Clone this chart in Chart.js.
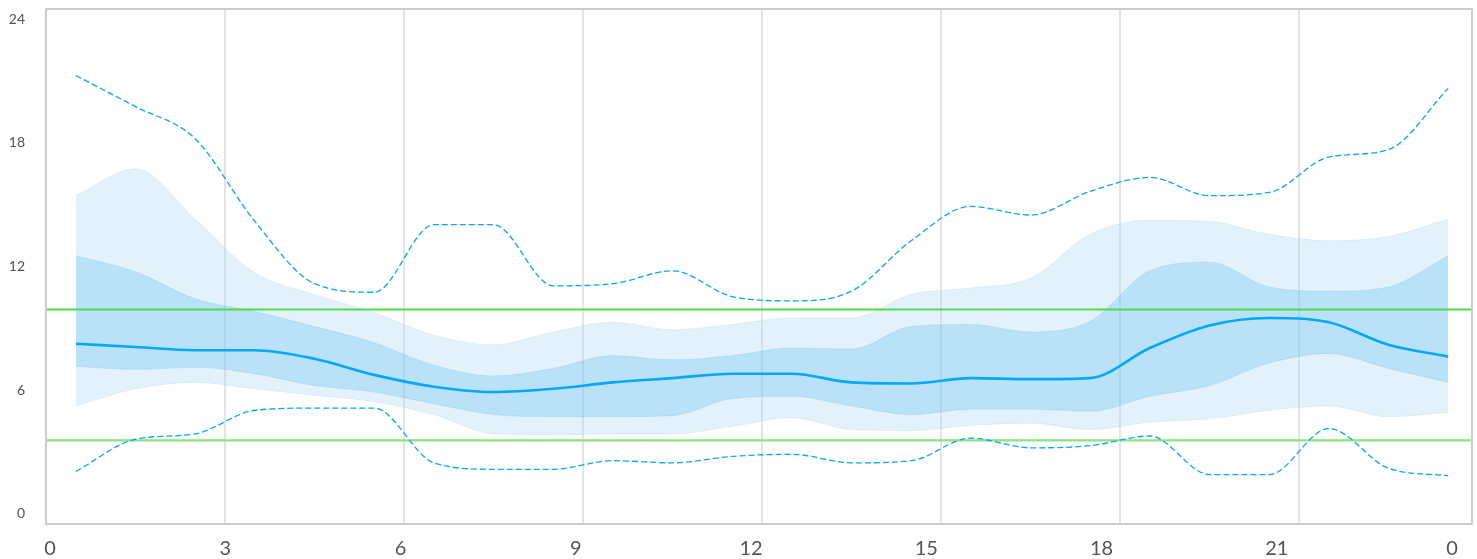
<!DOCTYPE html>
<html>
<head>
<meta charset="utf-8">
<script src="https://cdn.jsdelivr.net/npm/chart.js@4.4.1/dist/chart.umd.min.js"></script>
<style>
  html, body { margin: 0; padding: 0; background: #fff; }
  #grafica { display: block; }
</style>
</head>
<body>
<canvas id="grafica" width="1477" height="559"></canvas>
<script>
// hours of day (centre of each hourly slot)
const hours = [0.5, 1.5, 2.5, 3.5, 4.5, 5.5, 6.5, 7.5, 8.5, 9.5, 10.5, 11.5,
  12.5, 13.5, 14.5, 15.5, 16.5, 17.5, 18.5, 19.5, 20.5, 21.5, 22.5, 23.5];

const maxLine = [20.9, 19.45, 17.95, 14.1, 11.2, 10.8, 13.95, 13.95, 11.1, 11.2, 11.8, 10.6,
  10.4, 10.85, 13.2, 14.8, 14.4, 15.5, 16.15, 15.3, 15.45, 17.1, 17.45, 20.3];
const outerTop = [15.3, 16.55, 14.2, 11.7, 10.7, 9.85, 8.8, 8.35, 8.95, 9.4, 9.05, 9.3,
  9.6, 9.6, 10.7, 11.0, 11.45, 13.5, 14.15, 14.1, 13.5, 13.2, 13.4, 14.2];
const innerTop = [12.5, 11.75, 10.5, 9.9, 9.2, 8.45, 7.4, 6.9, 7.25, 7.85, 7.65, 7.85,
  8.2, 8.15, 9.2, 9.3, 8.95, 9.45, 11.8, 12.2, 11.05, 10.85, 11.05, 12.5];
const median = [8.4, 8.25, 8.1, 8.1, 7.7, 6.95, 6.4, 6.15, 6.3, 6.6, 6.8, 7.0,
  7.0, 6.6, 6.55, 6.8, 6.75, 6.8, 8.2, 9.25, 9.6, 9.4, 8.35, 7.8];
const innerBottom = [7.35, 7.2, 7.3, 7.0, 6.45, 6.15, 5.6, 5.1, 5.0, 5.0, 5.05, 5.85,
  5.95, 5.5, 5.1, 5.35, 5.35, 5.25, 5.95, 6.45, 7.5, 7.95, 7.25, 6.6];
const outerBottom = [5.5, 6.3, 6.6, 6.3, 6.0, 5.7, 5.1, 4.2, 4.15, 4.2, 4.2, 4.55,
  4.95, 4.4, 4.35, 4.6, 4.7, 4.4, 4.75, 4.9, 5.3, 5.5, 5.0, 5.2];
const minLine = [2.45, 3.95, 4.2, 5.3, 5.4, 5.4, 2.85, 2.55, 2.55, 2.95, 2.85, 3.15,
  3.25, 2.85, 2.95, 4.0, 3.55, 3.65, 4.1, 2.3, 2.3, 4.45, 2.6, 2.25];

const targetLow = 3.9;
const targetHigh = 10;

const xTicks = [0, 3, 6, 9, 12, 15, 18, 21, 24];
const xTickLabels = ["0", "3", "6", "9", "12", "15", "18", "21", "0"];
const xGrid = [3, 6, 9, 12, 15, 18, 21];
const yTicks = [0, 6, 12, 18, 24];

const X_MIN = 0;
const X_MAX = 23.9;
const BLUE = "rgb(3, 169, 244)";

function serie(values) {
  return hours.map((h, i) => ({ x: h, y: values[i] }));
}

function flat(value) {
  return [{ x: X_MIN, y: value }, { x: X_MAX, y: value }];
}

const frame = {
  id: "frame",
  afterDatasetsDraw(chart) {
    const { ctx, chartArea: a } = chart;
    ctx.save();
    ctx.strokeStyle = "#cccccc";
    ctx.lineWidth = 2;
    ctx.strokeRect(a.left, a.top, a.right - a.left, a.bottom - a.top);
    ctx.restore();
  },
};

function drawChart() {
  Chart.defaults.font.family = "Lato, 'Noto Sans', sans-serif";
  const base = {
    xAxisID: "x",
    yAxisID: "y",
    pointRadius: 0,
    cubicInterpolationMode: "monotone",
  };
  const ctx = document.getElementById("grafica");
  new Chart(ctx, {
    type: "line",
    data: {
      datasets: [
        { ...base, label: "median", data: serie(median), borderColor: BLUE, borderWidth: 2.6, fill: false },
        { ...base, label: "max", data: serie(maxLine), borderColor: BLUE, borderWidth: 1.3, borderDash: [6, 3], fill: false },
        { ...base, label: "min", data: serie(minLine), borderColor: BLUE, borderWidth: 1.3, borderDash: [6, 3], fill: false },
        { ...base, label: "high", data: flat(targetHigh), borderColor: "rgb(80, 220, 80)", borderWidth: 2, fill: false },
        { ...base, label: "low", data: flat(targetLow), borderColor: "rgb(141, 227, 135)", borderWidth: 2.2, fill: false },
        { ...base, label: "p75", data: serie(innerTop), borderColor: "rgba(120, 190, 235, 0.25)", borderWidth: 1,
          backgroundColor: "rgba(100, 190, 240, 0.33)", fill: 6 },
        { ...base, label: "p25", data: serie(innerBottom), borderColor: "rgba(120, 190, 235, 0.25)", borderWidth: 1, fill: false },
        { ...base, label: "p90", data: serie(outerTop), borderColor: "rgba(173, 216, 240, 0.3)", borderWidth: 1,
          backgroundColor: "rgba(173, 216, 240, 0.35)", fill: 8 },
        { ...base, label: "p10", data: serie(outerBottom), borderColor: "rgba(173, 216, 240, 0.3)", borderWidth: 1, fill: false },
      ],
    },
    options: {
      responsive: false,
      animation: false,
      layout: { padding: { top: 9, right: 5, left: 0, bottom: 0 } },
      plugins: {
        legend: { display: false },
        tooltip: { enabled: false },
      },
      scales: {
        x: {
          type: "linear",
          position: "bottom",
          min: X_MIN,
          max: X_MAX,
          afterBuildTicks: (s) => { s.ticks = xGrid.map((v) => ({ value: v })); },
          afterFit: (s) => { s.height = 0; },
          ticks: { display: false },
          grid: { color: "#e4e4e4", lineWidth: 2, drawTicks: false },
          border: { display: false },
        },
        xl: {
          type: "linear",
          position: "bottom",
          min: -0.0685,
          max: 24.342,
          afterBuildTicks: (s) => { s.ticks = xTicks.map((v) => ({ value: v })); },
          afterFit: (s) => { s.height = 35; s.paddingLeft = 0; s.paddingRight = 0; },
          ticks: {
            callback: (v, i) => xTickLabels[i],
            font: { size: 20 },
            color: "#555",
            padding: 13,
            maxRotation: 0,
            autoSkip: false,
          },
          grid: { display: false, drawTicks: false },
          border: { display: false },
        },
        y: { display: false, min: 0, max: 24 },
        yl: {
          type: "linear",
          position: "left",
          min: -0.5,
          max: 24.5,
          afterBuildTicks: (s) => { s.ticks = yTicks.map((v) => ({ value: v })); },
          afterFit: (s) => { s.width = 46; s.paddingTop = 0; s.paddingBottom = 0; },
          ticks: { font: { size: 14 }, color: "#555", padding: 21 },
          grid: { display: false, drawTicks: false },
          border: { display: false },
        },
      },
    },
    plugins: [frame],
  });
}

drawChart();
</script>
</body>
</html>
